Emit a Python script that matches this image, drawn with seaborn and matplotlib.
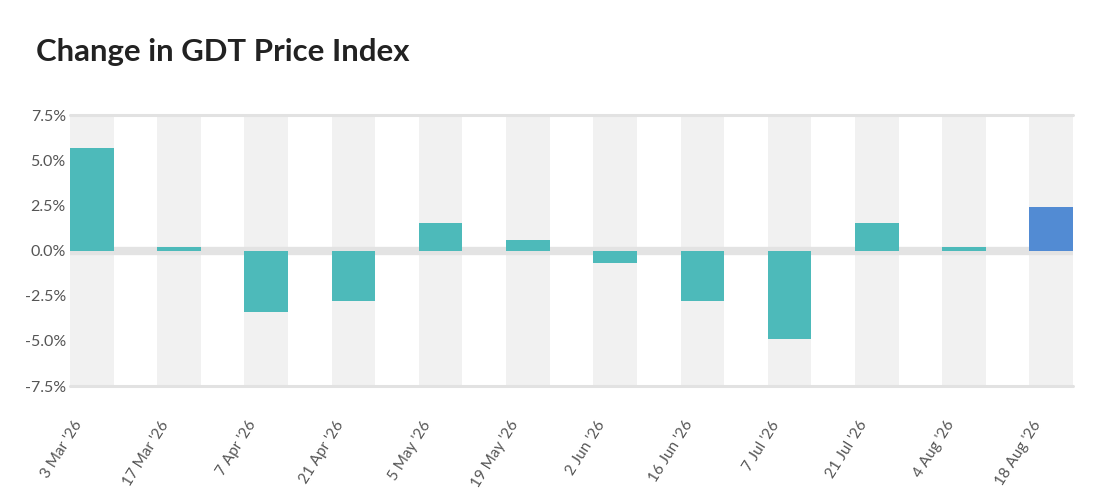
import matplotlib
matplotlib.use("Agg")
import matplotlib.pyplot as plt
import matplotlib.transforms as mtransforms
import pandas as pd
import seaborn as sns

# data
dates = ["3 Mar '26", "17 Mar '26", "7 Apr '26", "21 Apr '26", "5 May '26", "19 May '26",
         "2 Jun '26", "16 Jun '26", "7 Jul '26", "21 Jul '26", "4 Aug '26", "18 Aug '26"]
changes = [5.7, 0.2, -3.4, -2.8, 1.5, 0.6, -0.7, -2.8, -4.9, 1.5, 0.2, 2.4]
yticks = [7.5, 5.0, 2.5, 0.0, -2.5, -5.0, -7.5]

teal = "#4dbaba"
blue = "#528bd3"
colors = [teal] * (len(dates) - 1) + [blue]

df = pd.DataFrame({"date": dates, "change": changes})

sns.set_style("white")
plt.rcParams["font.family"] = ["Lato", "DejaVu Sans"]

fig = plt.figure(figsize=(11.02, 5.01), dpi=100)
ax = fig.add_axes([70 / 1102, 1 - 386 / 501, (1073 - 70) / 1102, (386 - 115) / 501])

# alternating column bands behind each bar
for i in range(len(dates)):
    ax.axvspan(i - 0.25, i + 0.25, color="#f1f1f1", lw=0, zorder=0)

ax.axhline(0, color="#e3e3e3", lw=6, zorder=1)
for y in (7.5, -7.5):
    ax.axhline(y, color="#e2e2e2", lw=2.2, zorder=1, clip_on=False)

sns.barplot(data=df, x="date", y="change", hue="date", palette=colors,
            legend=False, width=0.5, saturation=1, linewidth=0, ax=ax, zorder=2)

ax.set_xlim(-0.25, len(dates) - 0.75)
ax.set_ylim(-7.5, 7.5)
ax.set_yticks(yticks)
ax.set_yticklabels([f"{v:.1f}%" for v in yticks], color="#555555", fontsize=11.5)
ax.set_xlabel("")
ax.set_ylabel("")
for s in ax.spines.values():
    s.set_visible(False)

ax.tick_params(axis="y", length=0, pad=3)
ax.tick_params(axis="x", length=0, pad=26)
offset = mtransforms.ScaledTranslation(-13 / 100, 0, fig.dpi_scale_trans)
for lab in ax.get_xticklabels():
    lab.set_rotation(58)
    lab.set_ha("right")
    lab.set_va("center")
    lab.set_rotation_mode("anchor")
    lab.set_color("#555555")
    lab.set_fontsize(11)
    lab.set_transform(lab.get_transform() + offset)

fig.text(36 / 1102, 1 - 52 / 501, "Change in GDT Price Index", fontsize=22.4,
         fontweight="bold", color="#222222", va="center", ha="left")

fig.savefig("out.png", dpi=100)
